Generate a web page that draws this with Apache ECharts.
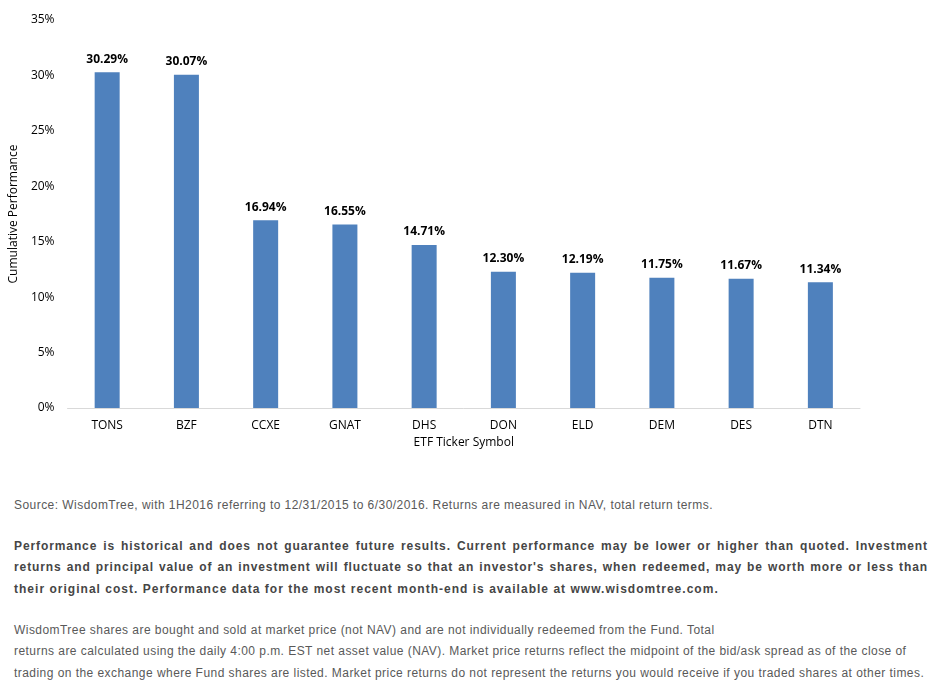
<!DOCTYPE html>
<html>
<head>
<meta charset="utf-8">
<script src="https://cdn.jsdelivr.net/npm/echarts@6/dist/echarts.min.js"></script>
<style>
  body { margin: 0; background: #fff; }
  #wrap { position: relative; width: 943px; height: 689px; }
  #chart { position: absolute; left: 0; top: 0; width: 943px; height: 460px; }
  .note { position: absolute; left: 14px; width: 914px; font-family: "Liberation Sans", Arial, sans-serif; font-size: 12px; color: #595959; line-height: 21.3px; letter-spacing: 0.45px; }
  .src { top: 495px; }
  .bold { top: 536px; font-weight: bold; letter-spacing: 0.9px; color: #454545; }
  .bold .j { text-align: justify; text-align-last: justify; white-space: nowrap; }
  .bold .last { letter-spacing: 1.02px; }
  .nav { top: 620px; }
</style>
</head>
<body>
<div id="wrap">
  <div id="chart"></div>
  <div class="note src">Source: WisdomTree, with 1H2016 referring to 12/31/2015 to 6/30/2016. Returns are measured in NAV, total return terms.</div>
  <div class="note bold">
    <div class="j">Performance is historical and does not guarantee future results. Current performance may be lower or higher than quoted. Investment</div>
    <div class="j">returns and principal value of an investment will fluctuate so that an investor's shares, when redeemed, may be worth more or less than</div>
    <div class="last">their original cost. Performance data for the most recent month-end is available at www.wisdomtree.com.</div>
  </div>
  <div class="note nav">WisdomTree shares are bought and sold at market price (not NAV) and are not individually redeemed from the Fund. Total<br>returns are calculated using the daily 4:00 p.m. EST net asset value (NAV). Market price returns reflect the midpoint of the bid/ask spread as of the close of<br>trading on the exchange where Fund shares are listed. Market price returns do not represent the returns you would receive if you traded shares at other times.</div>
</div>
<script>
var tickers = ['TONS', 'BZF', 'CCXE', 'GNAT', 'DHS', 'DON', 'ELD', 'DEM', 'DES', 'DTN']
var performance = [30.29, 30.07, 16.94, 16.55, 14.71, 12.30, 12.19, 11.75, 11.67, 11.34]

var chartFont = '"Open Sans", "Noto Sans", sans-serif'
var myChart = echarts.init(document.getElementById('chart'))

var option = {
  backgroundColor: '#fff',
  animation: false,
  textStyle: { fontFamily: chartFont },
  grid: {
    left: 65,
    right: 83,
    top: 20,
    height: 388
  },
  xAxis: {
    type: 'category',
    data: tickers,
    name: 'ETF Ticker Symbol',
    nameLocation: 'middle',
    nameGap: 26,
    nameTextStyle: { color: '#000', fontSize: 12, fontFamily: chartFont },
    axisLine: { lineStyle: { color: '#d9d9d9', width: 1 } },
    axisTick: { show: false },
    axisLabel: { color: '#000', fontSize: 12, margin: 12, fontFamily: chartFont }
  },
  yAxis: {
    type: 'value',
    min: 0,
    max: 35,
    interval: 5,
    name: 'Cumulative Performance',
    nameLocation: 'middle',
    nameGap: 42,
    nameTextStyle: { color: '#000', fontSize: 12, fontFamily: chartFont },
    axisLine: { show: false },
    axisTick: { show: false },
    splitLine: { show: false },
    axisLabel: {
      color: '#000',
      fontSize: 12,
      margin: 13,
      fontFamily: chartFont,
      formatter: function (v) { return v + '%' }
    }
  },
  series: [
    {
      type: 'bar',
      data: performance,
      barWidth: 25,
      itemStyle: { color: '#4f81bd' },
      label: {
        show: true,
        position: 'top',
        distance: 7,
        color: '#000',
        fontSize: 12,
        fontWeight: 'bold',
        fontFamily: chartFont,
        formatter: function (p) { return p.value.toFixed(2) + '%' }
      }
    }
  ]
}

myChart.setOption(option)
</script>
</body>
</html>
